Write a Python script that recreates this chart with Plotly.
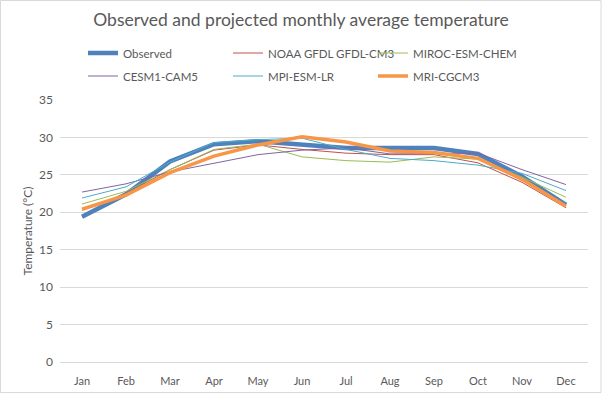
import plotly.graph_objects as go

months = ["Jan", "Feb", "Mar", "Apr", "May", "Jun", "Jul", "Aug", "Sep", "Oct", "Nov", "Dec"]

observed = [19.4, 22.4, 26.8, 29.1, 29.5, 29.0, 28.6, 28.6, 28.6, 27.8, 24.8, 21.0]
noaa_gfdl = [20.3, 22.5, 25.7, 28.3, 29.0, 28.4, 27.9, 27.7, 27.7, 26.6, 24.0, 20.6]
miroc = [21.1, 22.8, 25.7, 28.4, 29.1, 27.4, 26.9, 26.7, 27.4, 27.1, 24.7, 22.0]
cesm1 = [22.7, 23.8, 25.4, 26.6, 27.7, 28.3, 28.6, 27.8, 27.8, 27.9, 25.7, 23.7]
mpi = [21.9, 23.4, 26.7, 29.3, 29.7, 29.9, 28.4, 27.2, 26.9, 26.3, 25.2, 22.9]
mri = [20.4, 22.3, 25.3, 27.5, 29.0, 30.1, 29.4, 28.2, 28.0, 27.2, 24.4, 20.8]

series_names = ["Observed", "NOAA GFDL GFDL-CM3", "MIROC-ESM-CHEM", "CESM1-CAM5", "MPI-ESM-LR", "MRI-CGCM3"]
series_values = [observed, noaa_gfdl, miroc, cesm1, mpi, mri]
colors = ["#4F81BD", "#C0504D", "#9BBB59", "#8064A2", "#4BACC6", "#F79646"]
widths = [4.5, 1, 1, 1, 1, 3.5]

W, H = 602, 393
ml, mr, mt, mb = 60, 14, 100, 31
pw, ph = W - ml - mr, H - mt - mb

legend_cols_px = [83, 228, 373]
legend_rows_px = [53, 76]

fig = go.Figure()
legends = {}
for i, (name, vals, c, w) in enumerate(zip(series_names, series_values, colors, widths)):
    lid = "legend" if i == 0 else f"legend{i + 1}"
    fig.add_trace(go.Scatter(x=months, y=vals, mode="lines", name=name, legend=lid,
                             line=dict(color=c, width=w)))
    px = legend_cols_px[i % 3]
    py = legend_rows_px[i // 3]
    legends[lid] = dict(orientation="h", x=(px - ml) / pw, xanchor="left",
                        y=1 + (mt - py) / ph, yanchor="middle",
                        itemwidth=30,
                        font=dict(size=11.5, color="#595959"),
                        bgcolor="rgba(0,0,0,0)")

fig.update_layout(
    width=W, height=H,
    margin=dict(l=ml, r=mr, t=mt, b=mb, autoexpand=False),
    paper_bgcolor="white", plot_bgcolor="white",
    font=dict(family="Lato, 'Open Sans', sans-serif", color="#595959", size=11),
    title=dict(text="Observed and projected monthly average temperature",
               x=0.5, xanchor="center", y=1 - 20 / H, yanchor="middle",
               font=dict(size=17.5, color="#595959")),
    showlegend=True,
    xaxis=dict(type="category", showgrid=False, showline=True, linecolor="#D9D9D9",
               ticks="", ticklabelstandoff=9,
               tickfont=dict(size=11, color="#595959"), range=[-0.5, 11.5]),
    yaxis=dict(range=[0, 35], dtick=5, showgrid=True, gridcolor="#D9D9D9", gridwidth=1,
               zeroline=False, showline=False, ticks="", ticklabelstandoff=6,
               tickfont=dict(size=12, color="#595959"),
               title=dict(text="Temperature (°C)", font=dict(size=12, color="#595959"), standoff=3)),
    shapes=[dict(type="rect", xref="paper", yref="paper",
                 x0=-ml / pw + 0.5 / pw, x1=1 + (mr - 1) / pw,
                 y0=-mb / ph + 0.5 / ph, y1=1 + (mt - 0.5) / ph,
                 line=dict(color="#D9D9D9", width=1), fillcolor="rgba(0,0,0,0)", layer="below")],
    **legends,
)

fig.write_html("out.html", config={"displayModeBar": False},
               post_script="document.body.style.margin='0';")
